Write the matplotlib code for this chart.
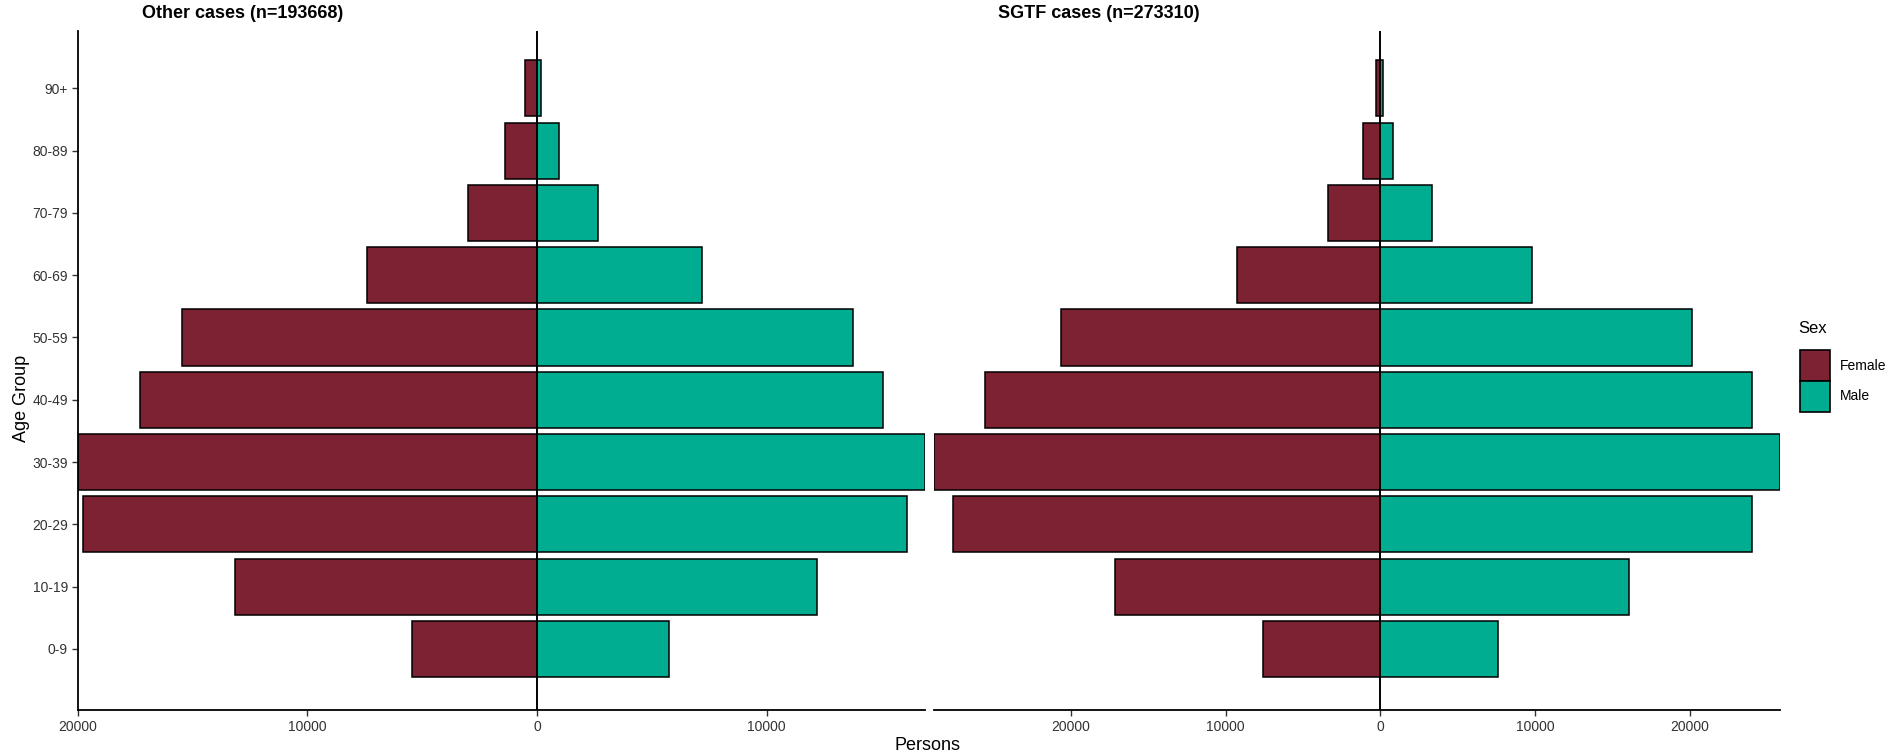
import matplotlib
matplotlib.use("Agg")
import matplotlib.pyplot as plt
from matplotlib.patches import Patch
import numpy as np

plt.rcParams['font.family'] = ['Liberation Sans', 'DejaVu Sans']

age_groups = ["0-9", "10-19", "20-29", "30-39", "40-49", "50-59", "60-69", "70-79", "80-89", "90+"]
other_female = [5420, 13130, 19770, 20000, 17260, 15430, 7380, 2990, 1385, 500]
other_male = [5760, 12190, 16120, 16880, 15060, 13750, 7200, 2650, 960, 175]
sgtf_female = [7560, 17160, 27600, 28880, 25560, 20670, 9290, 3400, 1140, 300]
sgtf_male = [7600, 16090, 24020, 25860, 24040, 20120, 9770, 3340, 800, 190]
titles = ["Other cases (n=193668)", "SGTF cases (n=273310)"]
sexes = ["Female", "Male"]
colors = {"Female": "#7D2232", "Male": "#00AD90"}

W, H = 1903, 756
fig = plt.figure(figsize=(W / 100, H / 100), dpi=100)

def fx(px):
    return px / W

def fy(py):
    return 1 - py / H

ax_top, ax_bot = 31, 710
panels = [
    (77.5, 924.7, other_female, other_male, [-20000, -10000, 0, 10000]),
    (933.7, 1780.4, sgtf_female, sgtf_male, [-20000, -10000, 0, 10000, 20000]),
]
ypos = np.arange(1, len(age_groups) + 1)
axes = []
for i, (x0, x1, fem, mal, ticks) in enumerate(panels):
    ax = fig.add_axes([fx(x0), fy(ax_bot), fx(x1) - fx(x0), fy(ax_top) - fy(ax_bot)])
    axes.append(ax)
    ax.barh(ypos, -np.array(fem), height=0.9, color=colors["Female"], edgecolor="black", linewidth=1.1, zorder=2)
    ax.barh(ypos, np.array(mal), height=0.9, color=colors["Male"], edgecolor="black", linewidth=1.1, zorder=2)
    ax.axvline(0, color="black", linewidth=1.4, zorder=3)
    ax.set_xlim(-max(fem), max(mal))
    ax.set_ylim(0.02, 10.92)
    ax.set_xticks(ticks)
    ax.set_xticklabels([str(abs(t)) for t in ticks], fontsize=10, color="#333333")
    for s in ["top", "right"]:
        ax.spines[s].set_visible(False)
    ax.spines["bottom"].set_linewidth(1.3)
    ax.spines["left"].set_linewidth(1.3)
    ax.tick_params(axis="x", length=4, width=1.0, pad=3, colors="#333333", labelcolor="#333333")
    if i == 0:
        ax.set_yticks(ypos)
        ax.set_yticklabels(age_groups, fontsize=10, color="#333333")
        ax.tick_params(axis="y", length=4, width=1.0, pad=3, colors="#333333")
    else:
        ax.spines["left"].set_visible(False)
        ax.set_yticks([])

fig.text(fx(142), fy(13), titles[0], fontsize=13, fontweight="bold", ha="left", va="center")
fig.text(fx(998), fy(13), titles[1], fontsize=13, fontweight="bold", ha="left", va="center")
fig.text(fx(928), fy(745), "Persons", fontsize=13, ha="center", va="center")
fig.text(fx(22), fy(398), "Age Group", fontsize=13, ha="center", va="center", rotation=90)

# legend
fig.text(fx(1798), fy(329), "Sex", fontsize=12, ha="left", va="center")
handles = [Patch(facecolor=colors[s], edgecolor="black", linewidth=1.2, label=s) for s in sexes]
leg = fig.legend(handles=handles, loc="upper left", bbox_to_anchor=(fx(1800), fy(350)),
                 frameon=False, fontsize=10,
                 handlelength=2.15, handleheight=3.05, labelspacing=0.0, handletextpad=0.7,
                 borderaxespad=0, borderpad=0.0)

fig.savefig("out.png", dpi=100)
